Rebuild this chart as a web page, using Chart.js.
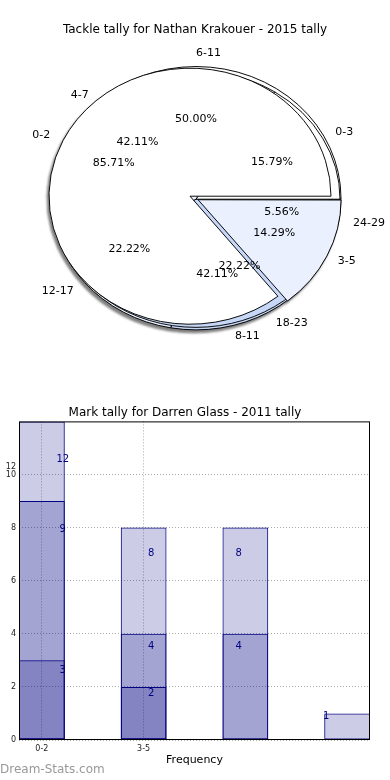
<!DOCTYPE html>
<html>
<head>
<meta charset="utf-8">
<script src="https://cdn.jsdelivr.net/npm/chart.js@4.4.1/dist/chart.umd.min.js"></script>
<style>
  body { margin: 0; background: #fff; }
  #wrap { position: relative; width: 390px; height: 780px; }
  #pies { position: absolute; left: 0; top: 0; width: 390px; height: 390px;
          filter: drop-shadow(-2px 3px 1px rgba(0,0,0,0.5)); }
  .layer { position: absolute; left: 0; top: 0; }
  #bars { position: absolute; left: 0; top: 390px; }
</style>
</head>
<body>
<div id="wrap">
  <div id="pies">
    <canvas id="pieC" class="layer" width="390" height="390"></canvas>
    <canvas id="pieB" class="layer" width="390" height="390"></canvas>
    <canvas id="pieA" class="layer" width="390" height="390"></canvas>
  </div>
  <canvas id="pieText" class="layer" width="390" height="390"></canvas>
  <canvas id="bars" width="390" height="390"></canvas>
</div>
<script>
'use strict';

// pie: three tallies drawn over each other
var pieTitle = 'Tackle tally for Nathan Krakouer - 2015 tally';
var pieLabelsA = ['0-2', '3-5'];
var pieValuesA = [6, 1];
var pieLabelsB = ['0-3', '4-7', '8-11'];
var pieValuesB = [3, 8, 8];
var pieLabelsC = ['6-11', '12-17', '18-23', '24-29'];
var pieValuesC = [9, 4, 4, 1];

// bars
var barTitle = 'Mark tally for Darren Glass - 2011 tally';
var barX = [0.225, 1.225, 2.225, 3.225];
var barsHigh = [12, 8, 8, 1];
var barsMid = [9, 4, 4, 0];
var barsLow = [3, 2, 0, 0];
var barLabelX = [0.43, 1.30, 2.16, 3.02];
var xTickValues = [0.225, 1.225];
var xTickLabels = ['0-2', '3-5'];
var yTickValues = [0, 2, 4, 6, 8, 10, 10.3];
var yTickLabels = ['0', '2', '4', '6', '8', '10', '12'];

var palette = ['#ffffff', '#eaf0fd', '#c6d7f7', '#a6bfef'];
var font = 'DejaVu Sans';

// squash the circle into the ellipse of the original axes
var ellipsePlugin = {
    id: 'ellipse',
    beforeDatasetsDraw: function(chart, args, opts) {
        var arc = chart.getDatasetMeta(0).data[0];
        var ctx = chart.ctx;
        ctx.save();
        ctx.translate(arc.x, arc.y);
        ctx.scale(1, opts.k);
        ctx.translate(-arc.x, -arc.y);
    },
    afterDatasetsDraw: function(chart) {
        chart.ctx.restore();
    }
};

var lowerPies = [];
var pieTextPlugin = {
    id: 'pieText',
    afterDraw: function(chart) {
        var ctx = document.getElementById('pieText').getContext('2d');
        ctx.save();
        ctx.fillStyle = '#000';
        ctx.textBaseline = 'middle';
        ctx.textAlign = 'center';
        ctx.font = '12px "' + font + '"';
        ctx.fillText(pieTitle, chart.width / 2, 30);
        ctx.font = '11px "' + font + '"';
        lowerPies.concat([chart]).forEach(function(pc) {
            var meta = pc.getDatasetMeta(0);
            var ds = pc.data.datasets[0];
            var k = pc.options.plugins.ellipse.k;
            var total = ds.data.reduce(function(a, b) { return a + b; }, 0);
            meta.data.forEach(function(arc, i) {
                var mid = (arc.startAngle + arc.endAngle) / 2;
                var c = Math.cos(mid), s = Math.sin(mid);
                var r = arc.outerRadius;
                var pull = ds.offset[i] / 4;   // chart.js moves an arc by offset / 4
                var d1 = pull + 1.1 * r;
                ctx.textAlign = c > -1e-9 ? 'left' : 'right';
                ctx.fillText(pc.data.labels[i], arc.x + d1 * c, arc.y + d1 * s * k);
                var d2 = pull + 0.6 * r;
                ctx.textAlign = 'center';
                ctx.fillText((ds.data[i] / total * 100).toFixed(2) + '%', arc.x + d2 * c, arc.y + d2 * s * k);
            });
        });
        ctx.restore();
    }
};

function rev(arr) { return arr.slice().reverse(); }

function makePie(id, labels, values, explode, radius, k, padding, top) {
    return new Chart(document.getElementById(id), {
        type: 'pie',
        data: {
            labels: rev(labels),
            datasets: [{
                data: rev(values),
                backgroundColor: rev(palette.slice(0, values.length)),
                borderColor: '#000',
                borderWidth: 1,
                borderJoinStyle: 'miter',
                offset: rev(explode),
                radius: radius
            }]
        },
        options: {
            responsive: false,
            animation: false,
            rotation: 90,
            layout: { padding: padding },
            plugins: {
                legend: { display: false },
                tooltip: { enabled: false },
                ellipse: { k: k },
                // invisible, keeps the same top margin as the original title
                title: {
                    display: true,
                    text: pieTitle,
                    color: 'rgba(0,0,0,0)',
                    font: { family: font, size: 12, weight: 'normal' },
                    padding: { top: 23, bottom: 0 }
                }
            }
        },
        plugins: top ? [ellipsePlugin, pieTextPlugin] : [ellipsePlugin]
    });
}

lowerPies.push(makePie('pieC', pieLabelsC, pieValuesC, [0, 0, 0, 0], 145, 0.908,
    { left: 2, right: 0, top: 0, bottom: 31 }, false));
lowerPies.push(makePie('pieB', pieLabelsB, pieValuesB, [0, 0, 0], 144, 0.89,
    { left: 2, right: 0, top: 0, bottom: 29 }, false));
makePie('pieA', pieLabelsA, pieValuesA, [0, 36], 141, 0.908,
    { left: 0, right: 10, top: 0, bottom: 35 }, true);

function points(values) {
    return values.map(function(v, i) { return { x: barX[i], y: v }; });
}

var barTextPlugin = {
    id: 'barText',
    afterDatasetsDraw: function(chart) {
        var ctx = chart.ctx;
        var a = chart.chartArea;
        var xs = chart.scales.x, ys = chart.scales.y;
        ctx.save();
        ctx.fillStyle = '#000080';
        ctx.font = '10px "' + font + '"';
        ctx.textAlign = 'center';
        ctx.textBaseline = 'middle';
        [barsHigh, barsMid, barsLow].forEach(function(series) {
            series.forEach(function(v, i) {
                if (!v) return;
                ctx.fillText(String(v), xs.getPixelForValue(barLabelX[i]), ys.getPixelForValue(v * 0.88));
            });
        });
        ctx.strokeStyle = '#000';
        ctx.lineWidth = 1;
        ctx.strokeRect(a.left + 0.5, a.top + 0.5, a.right - a.left - 1, a.bottom - a.top - 1);
        ctx.restore();
    },
    afterDraw: function(chart) {
        var ctx = chart.ctx;
        ctx.save();
        ctx.fillStyle = '#999999';
        ctx.font = '12px "' + font + '"';
        ctx.textAlign = 'left';
        ctx.textBaseline = 'middle';
        ctx.fillText('Dream-Stats.com', 0, 380);
        ctx.restore();
    }
};

var barStyle = {
    backgroundColor: 'rgba(0,0,128,0.2)',
    borderColor: '#000080',
    borderWidth: 1,
    borderSkipped: false
};

new Chart(document.getElementById('bars'), {
    type: 'bar',
    data: {
        datasets: [
            Object.assign({ data: points(barsHigh) }, barStyle),
            Object.assign({ data: points(barsMid) }, barStyle),
            Object.assign({ data: points(barsLow) }, barStyle)
        ]
    },
    options: {
        responsive: false,
        animation: false,
        grouped: false,
        categoryPercentage: 1,
        barPercentage: 0.45,
        layout: { padding: { left: 0, right: 20, top: 0, bottom: 0 } },
        scales: {
            x: {
                type: 'linear',
                min: 0,
                max: 3.45,
                offset: false,
                afterBuildTicks: function(scale) {
                    scale.ticks = xTickValues.map(function(v) { return { value: v }; });
                },
                afterFit: function(scale) { scale.height = 40; },
                ticks: {
                    autoSkip: false,
                    maxRotation: 0,
                    padding: 4,
                    color: '#222',
                    font: { family: font, size: 8 },
                    callback: function(v, i) { return xTickLabels[i]; }
                },
                grid: { color: '#aaaaaa', drawTicks: false, offset: false },
                border: { display: false, dash: [1, 2] },
                title: {
                    display: true,
                    text: 'Frequency',
                    color: '#000',
                    font: { family: font, size: 11 },
                    padding: { top: 0, bottom: 13 }
                }
            },
            y: {
                min: 0,
                max: 12,
                afterBuildTicks: function(scale) {
                    scale.ticks = yTickValues.map(function(v) { return { value: v }; });
                },
                afterFit: function(scale) { scale.width = 19; },
                ticks: {
                    autoSkip: false,
                    padding: 3,
                    color: '#222',
                    font: { family: font, size: 8 },
                    callback: function(v, i) { return yTickLabels[i]; }
                },
                grid: {
                    drawTicks: false,
                    color: function(c) { return c.index === 6 ? 'rgba(0,0,0,0)' : '#aaaaaa'; }
                },
                border: { display: false, dash: [1, 2] }
            }
        },
        plugins: {
            legend: { display: false },
            tooltip: { enabled: false },
            title: {
                display: true,
                text: barTitle,
                color: '#000',
                font: { family: font, size: 12, weight: 'normal' },
                padding: { top: 16, bottom: 1 }
            }
        }
    },
    plugins: [barTextPlugin]
});
</script>
</body>
</html>
